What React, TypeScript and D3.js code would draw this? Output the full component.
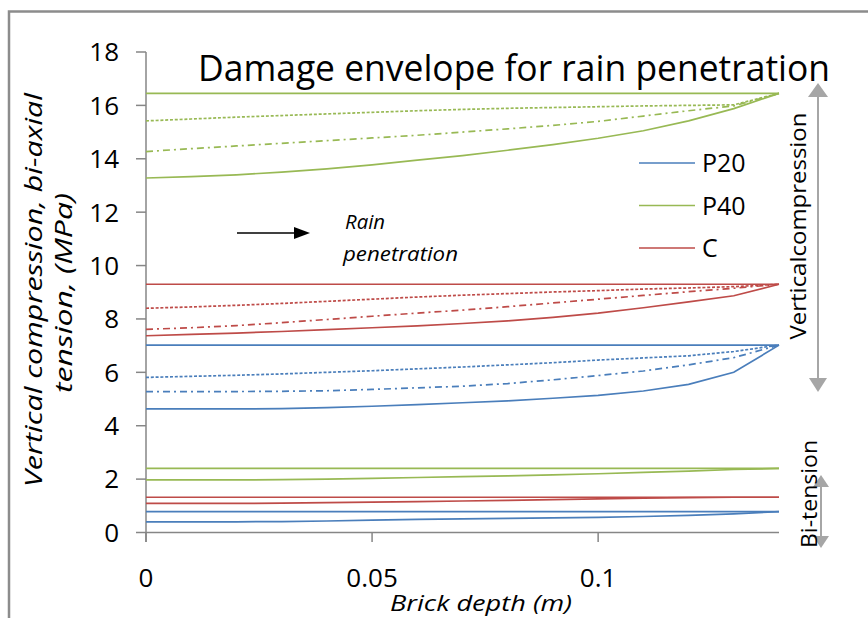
import React from 'react';
import * as d3 from 'd3';

// ---- Data ----
const depth = [0, 0.01, 0.02, 0.03, 0.04, 0.05, 0.06, 0.07, 0.08, 0.09, 0.1, 0.11, 0.12, 0.13, 0.14];

// P20 (blue)
const p20CompUpper = [7.02, 7.02, 7.02, 7.02, 7.02, 7.02, 7.02, 7.02, 7.02, 7.02, 7.02, 7.02, 7.02, 7.02, 7.02];
const p20CompDashed = [5.81, 5.85, 5.89, 5.94, 6.0, 6.06, 6.13, 6.2, 6.28, 6.36, 6.46, 6.54, 6.62, 6.78, 7.02];
const p20CompDashDot = [5.28, 5.28, 5.28, 5.29, 5.31, 5.36, 5.42, 5.48, 5.58, 5.72, 5.88, 6.05, 6.28, 6.55, 7.02];
const p20CompLower = [4.63, 4.63, 4.63, 4.64, 4.68, 4.73, 4.79, 4.86, 4.93, 5.03, 5.14, 5.3, 5.55, 6.0, 7.02];
const p20TensUpper = [0.78, 0.78, 0.78, 0.78, 0.78, 0.78, 0.78, 0.78, 0.78, 0.78, 0.78, 0.78, 0.78, 0.78, 0.78];
const p20TensLower = [0.4, 0.4, 0.4, 0.41, 0.43, 0.46, 0.49, 0.51, 0.53, 0.55, 0.57, 0.6, 0.64, 0.7, 0.78];

// P40 (green)
const p40CompUpper = [16.45, 16.45, 16.45, 16.45, 16.45, 16.45, 16.45, 16.45, 16.45, 16.45, 16.45, 16.45, 16.45, 16.45, 16.45];
const p40CompDashed = [15.42, 15.49, 15.56, 15.62, 15.68, 15.74, 15.8, 15.85, 15.89, 15.92, 15.95, 15.98, 16.0, 16.02, 16.45];
const p40CompDashDot = [14.27, 14.38, 14.48, 14.58, 14.68, 14.78, 14.88, 15.0, 15.12, 15.25, 15.4, 15.6, 15.8, 15.98, 16.45];
const p40CompLower = [13.28, 13.33, 13.4, 13.5, 13.62, 13.77, 13.95, 14.12, 14.32, 14.53, 14.77, 15.05, 15.42, 15.88, 16.45];
const p40TensUpper = [2.4, 2.4, 2.4, 2.4, 2.4, 2.4, 2.4, 2.4, 2.4, 2.4, 2.4, 2.4, 2.4, 2.4, 2.4];
const p40TensLower = [1.97, 1.97, 1.97, 1.98, 2.0, 2.03, 2.06, 2.09, 2.12, 2.16, 2.2, 2.25, 2.3, 2.36, 2.4];

// C (red)
const cCompUpper = [9.3, 9.3, 9.3, 9.3, 9.3, 9.3, 9.3, 9.3, 9.3, 9.3, 9.3, 9.3, 9.3, 9.3, 9.3];
const cCompDashed = [8.4, 8.45, 8.51, 8.58, 8.66, 8.74, 8.82, 8.89, 8.95, 9.01, 9.06, 9.12, 9.16, 9.21, 9.3];
const cCompDashDot = [7.61, 7.67, 7.75, 7.86, 7.98, 8.1, 8.22, 8.33, 8.46, 8.6, 8.74, 8.88, 9.02, 9.15, 9.3];
const cCompLower = [7.37, 7.42, 7.47, 7.53, 7.6, 7.67, 7.74, 7.83, 7.93, 8.06, 8.22, 8.42, 8.64, 8.87, 9.3];
const cTensUpper = [1.32, 1.32, 1.32, 1.32, 1.32, 1.32, 1.32, 1.32, 1.32, 1.32, 1.32, 1.32, 1.32, 1.32, 1.32];
const cTensLower = [1.09, 1.09, 1.09, 1.1, 1.12, 1.14, 1.16, 1.18, 1.2, 1.23, 1.26, 1.29, 1.31, 1.32, 1.32];

const legendNames = ['P20', 'P40', 'C'];
const yTicks = [0, 2, 4, 6, 8, 10, 12, 14, 16, 18];
const xTicks = [0, 0.05, 0.1];
const xTickLabels = ['0', '0.05', '0.1'];

const BLUE = '#4a7ebb';
const GREEN = '#98b954';
const RED = '#be4b48';
const AXIS = '#868686';
const GREY = '#a6a6a6';
const FONT = '"Open Sans", "Noto Sans", sans-serif';

const DASH = '3,1.8';
const DASHDOT = '7,4,2,4';

type S = { v: number[]; c: string; d?: string };
const series: S[] = [
  { v: p20CompUpper, c: BLUE }, { v: p20CompDashed, c: BLUE, d: DASH }, { v: p20CompDashDot, c: BLUE, d: DASHDOT }, { v: p20CompLower, c: BLUE },
  { v: p20TensUpper, c: BLUE }, { v: p20TensLower, c: BLUE },
  { v: p40CompUpper, c: GREEN }, { v: p40CompDashed, c: GREEN, d: DASH }, { v: p40CompDashDot, c: GREEN, d: DASHDOT }, { v: p40CompLower, c: GREEN },
  { v: p40TensUpper, c: GREEN }, { v: p40TensLower, c: GREEN },
  { v: cCompUpper, c: RED }, { v: cCompDashed, c: RED, d: DASH }, { v: cCompDashDot, c: RED, d: DASHDOT }, { v: cCompLower, c: RED },
  { v: cTensUpper, c: RED }, { v: cTensLower, c: RED },
];
const legendColors = [BLUE, GREEN, RED];

export default function App() {
  const x = d3.scaleLinear().domain([0, 0.14]).range([146, 779]);
  const y = d3.scaleLinear().domain([0, 18]).range([532.5, 52]);
  const line = d3.line<number>().x((_, i) => x(depth[i])).y((d) => y(d));

  return (
    <svg width={868} height={618} style={{ position: 'absolute', left: 0, top: 0, background: '#fff' }} fontFamily={FONT}>
      <rect x={0} y={0} width={868} height={618} fill="#fff" />
      {/* frame */}
      <path d="M9,618 L9,11.5 L868,11.5" fill="none" stroke="#8c8c8c" strokeWidth={2.5} />

      {/* title */}
      <text x={198} y={81} fontSize={36} fill="#000" textLength={632} lengthAdjust="spacingAndGlyphs">Damage envelope for rain penetration</text>

      {/* axes */}
      <line x1={146} x2={146} y1={y(18)} y2={542} stroke={AXIS} strokeWidth={1.5} />
      <line x1={146} x2={779} y1={y(0)} y2={y(0)} stroke={AXIS} strokeWidth={1.5} />
      {yTicks.map((t) => (
        <g key={'y' + t}>
          <line x1={136} x2={146} y1={y(t)} y2={y(t)} stroke={AXIS} strokeWidth={1.5} />
          <text x={119} y={y(t)} dy="0.36em" textAnchor="end" fontSize={26} fill="#000">{t}</text>
        </g>
      ))}
      {xTicks.map((t, i) => (
        <g key={'x' + t}>
          <line x1={x(t)} x2={x(t)} y1={y(0)} y2={542} stroke={AXIS} strokeWidth={1.5} />
          <text x={x(t)} y={587} textAnchor="middle" fontSize={26} fill="#000">{xTickLabels[i]}</text>
        </g>
      ))}

      {/* axis titles */}
      <text transform={`translate(42,290) rotate(-90)`} textAnchor="middle" fontSize={24} fontStyle="italic" fill="#000" textLength={394} lengthAdjust="spacingAndGlyphs">Vertical compression, bi-axial</text>
      <text transform={`translate(72,293) rotate(-90)`} textAnchor="middle" fontSize={24} fontStyle="italic" fill="#000" textLength={200} lengthAdjust="spacingAndGlyphs">tension, (MPa)</text>
      <text x={390} y={611} fontSize={22} fontStyle="italic" fill="#000" textLength={182} lengthAdjust="spacingAndGlyphs">Brick depth (m)</text>

      {/* series */}
      {series.map((s, i) => (
        <path key={i} d={line(s.v) || ''} fill="none" stroke={s.c} strokeWidth={1.7} strokeDasharray={s.d} />
      ))}

      {/* legend */}
      {legendNames.map((n, i) => (
        <g key={n}>
          <line x1={639} x2={695} y1={163 + i * 42.5} y2={163 + i * 42.5} stroke={legendColors[i]} strokeWidth={1.7} />
          <text x={702} y={163 + i * 42.5} dy="0.36em" fontSize={25} fill="#000">{n}</text>
        </g>
      ))}

      {/* rain penetration annotation */}
      <text x={345} y={229} fontSize={20} fontStyle="italic" fill="#000" textLength={40} lengthAdjust="spacingAndGlyphs">Rain</text>
      <text x={343} y={261} fontSize={20} fontStyle="italic" fill="#000" textLength={115} lengthAdjust="spacingAndGlyphs">penetration</text>
      <line x1={237} x2={296} y1={233} y2={233} stroke="#000" strokeWidth={1.5} />
      <path d="M310,233 L294,227 L294,239 Z" fill="#000" />

      {/* right annotations */}
      <line x1={818} x2={818} y1={94} y2={380} stroke={GREY} strokeWidth={2} />
      <path d="M818,83 L808,97 L828,97 Z" fill={GREY} />
      <path d="M818,392 L809,378 L827,378 Z" fill={GREY} />
      <text transform={`translate(806,226) rotate(-90)`} textAnchor="middle" fontSize={22} fill="#000" textLength={227} lengthAdjust="spacingAndGlyphs">Verticalcompression</text>

      <line x1={821} x2={821} y1={485} y2={538} stroke={GREY} strokeWidth={2} />
      <path d="M821,475 L813,487 L829,487 Z" fill={GREY} />
      <path d="M821,548 L813,536 L829,536 Z" fill={GREY} />
      <text transform={`translate(817,494) rotate(-90)`} textAnchor="middle" fontSize={22} fill="#000" textLength={108} lengthAdjust="spacingAndGlyphs">Bi-tension</text>
    </svg>
  );
}
